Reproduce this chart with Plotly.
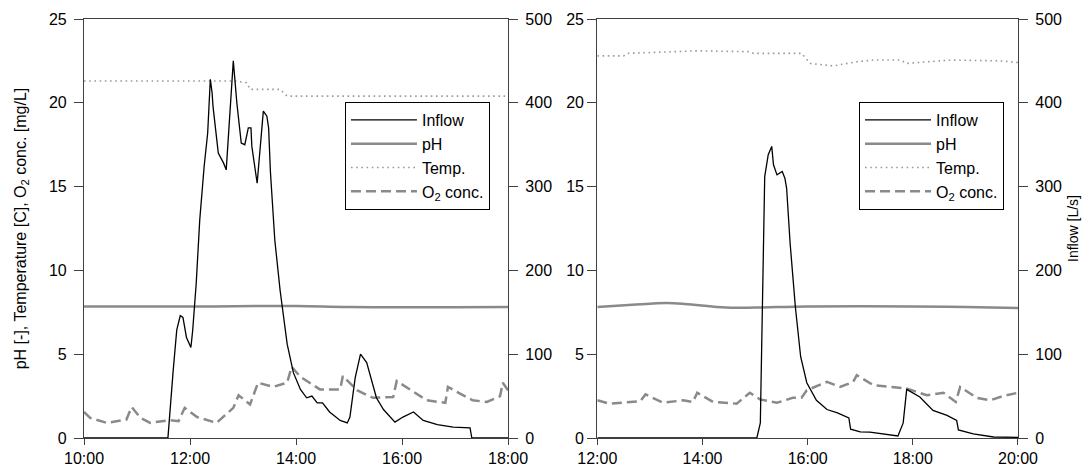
import plotly.graph_objects as go

D = "2000-01-01 "

# ---------------- Left panel (10:00 - 18:00) ----------------
l_inflow_t = ["10:00", "11:35", "11:41", "11:45", "11:49", "11:52", "11:56", "12:01", "12:03", "12:07",
              "12:11", "12:16", "12:20", "12:23", "12:25", "12:26", "12:32", "12:38", "12:41", "12:49",
              "12:53", "12:58", "13:02", "13:06", "13:09", "13:10", "13:16", "13:23", "13:27", "13:29",
              "13:31", "13:36", "13:42", "13:50", "13:57", "14:05", "14:12", "14:18", "14:24", "14:30",
              "14:38", "14:50", "14:58", "15:01", "15:07", "15:13", "15:20", "15:31", "15:39", "15:52",
              "16:01", "16:13", "16:24", "16:40", "16:58", "17:17", "17:19", "18:00"]
l_inflow_v = [0, 0, 81, 129, 146, 144, 120, 108, 128, 184,
              260, 324, 364, 428, 412, 396, 340, 328, 320, 450,
              400, 352, 350, 370, 370, 348, 304, 390, 384, 370,
              318, 236, 176, 112, 78, 58, 48, 50, 42, 42,
              31, 21, 18, 25, 72, 100, 90, 48, 34, 19,
              25, 31, 21, 16, 13, 12, 0, 0]

l_ph_t = ["10:00", "12:00", "14:00", "15:00", "18:00"]
l_ph_v = [7.85, 7.85, 7.88, 7.82, 7.82]

l_temp_t = ["10:00", "12:50", "13:04", "13:08", "13:42", "13:50", "18:00"]
l_temp_v = [21.3, 21.3, 21.2, 20.8, 20.8, 20.4, 20.4]

l_o2_t = ["10:00", "10:07", "10:26", "10:48", "10:54", "11:04", "11:15", "11:37", "11:47", "11:54",
          "12:08", "12:30", "12:49", "12:55", "13:08", "13:17", "13:34", "13:50", "13:55", "14:05",
          "14:27", "14:50", "14:53", "15:09", "15:27", "15:50", "15:54", "16:13", "16:28", "16:49",
          "16:52", "17:02", "17:20", "17:36", "17:51", "17:54", "18:00"]
l_o2_v = [1.55, 1.2, 0.9, 1.1, 1.85, 1.2, 0.9, 1.07, 1.0, 1.8,
          1.25, 0.9, 1.8, 2.55, 2.0, 3.3, 3.05, 3.3, 4.25, 3.65,
          2.9, 2.9, 3.7, 2.85, 2.4, 2.45, 3.4, 2.75, 2.25, 2.1,
          3.05, 2.75, 2.25, 2.15, 2.5, 3.3, 2.85]

# ---------------- Right panel (12:00 - 20:00) ----------------
r_inflow_t = ["12:00", "15:02", "15:06", "15:08", "15:10", "15:11", "15:15", "15:19", "15:21", "15:25",
              "15:31", "15:34", "15:36", "15:40", "15:46", "15:52", "15:59", "16:10", "16:22", "16:34",
              "16:47", "16:49", "17:00", "17:11", "17:43", "17:49", "17:53", "17:59", "18:08", "18:23",
              "18:39", "18:50", "18:52", "19:09", "19:32", "20:00"]
r_inflow_v = [0, 0, 18, 128, 248, 312, 338, 348, 326, 314,
              318, 310, 298, 232, 156, 97, 66, 45, 34, 30,
              24, 10.6, 7.4, 7.0, 2.4, 18, 58, 54, 49, 33,
              27, 21, 9.6, 4.8, 1.2, 0.8]

r_ph_t = ["12:00", "12:40", "13:19", "13:40", "14:27", "15:00", "16:00", "18:00", "19:00", "20:00"]
r_ph_v = [7.82, 7.95, 8.05, 8.0, 7.78, 7.78, 7.85, 7.85, 7.82, 7.75]

r_temp_t = ["12:00", "12:30", "12:34", "13:15", "13:53", "14:54", "14:58", "15:53", "16:03", "16:29",
            "16:56", "17:15", "17:46", "17:53", "18:23", "18:43", "19:40", "20:00"]
r_temp_v = [22.8, 22.8, 22.95, 23.05, 23.1, 23.05, 22.95, 22.95, 22.35, 22.2,
            22.45, 22.55, 22.55, 22.35, 22.45, 22.55, 22.5, 22.4]

r_o2_t = ["12:00", "12:14", "12:49", "12:55", "13:15", "13:38", "13:49", "13:54", "14:12", "14:39",
          "14:54", "15:06", "15:25", "15:43", "15:53", "15:59", "16:22", "16:37", "16:52", "16:56",
          "17:15", "17:53", "18:16", "18:35", "18:49", "18:54", "19:13", "19:28", "19:43", "20:00"]
r_o2_v = [2.25, 2.05, 2.2, 2.6, 2.1, 2.25, 2.15, 2.7, 2.15, 2.05,
          2.7, 2.3, 2.1, 2.4, 2.4, 2.85, 3.35, 3.05, 3.35, 3.75,
          3.15, 2.95, 2.55, 2.7, 2.15, 3.05, 2.4, 2.25, 2.5, 2.7]

names = ["Inflow", "pH", "Temp.", "O<sub>2</sub> conc."]

FONT = "Liberation Sans, Arial, sans-serif"
AX = "#404040"


def ts(lst):
    return [D + t for t in lst]


fig = go.Figure()

def add_panel(xa, ya_left, ya_right, leg, inflow_t, inflow_v, ph_t, ph_v, temp_t, temp_v, o2_t, o2_v):
    fig.add_trace(go.Scatter(x=ts(inflow_t), y=inflow_v, name=names[0], mode="lines",
                             line=dict(color="black", width=1.3), xaxis=xa, yaxis=ya_right, legend=leg))
    fig.add_trace(go.Scatter(x=ts(ph_t), y=ph_v, name=names[1], mode="lines",
                             line=dict(color="#8a8a8a", width=2.5, shape="spline"), xaxis=xa, yaxis=ya_left, legend=leg))
    fig.add_trace(go.Scatter(x=ts(temp_t), y=temp_v, name=names[2], mode="lines",
                             line=dict(color="#9a9a9a", width=1.6, dash="1.6px,3.6px"), xaxis=xa, yaxis=ya_left, legend=leg))
    fig.add_trace(go.Scatter(x=ts(o2_t), y=o2_v, name=names[3], mode="lines",
                             line=dict(color="#8a8a8a", width=2.5, dash="10px,5px"), xaxis=xa, yaxis=ya_left, legend=leg))


add_panel("x", "y", "y2", "legend", l_inflow_t, l_inflow_v, l_ph_t, l_ph_v, l_temp_t, l_temp_v, l_o2_t, l_o2_v)
add_panel("x2", "y3", "y4", "legend2", r_inflow_t, r_inflow_v, r_ph_t, r_ph_v, r_temp_t, r_temp_v, r_o2_t, r_o2_v)

xcommon = dict(type="date", tickformat="%H:%M", dtick=7200000, ticks="outside", ticklen=6,
               tickcolor=AX, showline=True, linecolor=AX, linewidth=1.2, mirror=True, automargin=False,
               showgrid=False, zeroline=False, tickfont=dict(size=16, color="black"))
ycommon = dict(ticks="outside", ticklen=9, tickcolor=AX, showline=True, linecolor=AX, linewidth=1.2,
               automargin=False, showgrid=False, zeroline=False, tickfont=dict(size=16, color="black"))

fig.update_layout(
    width=1086, height=473,
    margin=dict(l=84, r=68, t=19, b=35, autoexpand=False),
    paper_bgcolor="white", plot_bgcolor="white",
    font=dict(family=FONT, size=16, color="black"),
    xaxis=dict(domain=[0, 0.454], range=[D + "10:00", D + "18:00"], tick0=D + "10:00", anchor="y", **xcommon),
    xaxis2=dict(domain=[0.5496, 1], range=[D + "12:00", D + "20:00"], tick0=D + "12:00", anchor="y3", **xcommon),
    yaxis=dict(range=[0, 25], dtick=5, anchor="x", side="left", ticklabelstandoff=4,
               title=dict(text="pH [-], Temperature [C], O<sub>2</sub> conc. [mg/L]", font=dict(size=16), standoff=18),
               **ycommon),
    yaxis2=dict(range=[0, 500], dtick=100, anchor="x", overlaying="y", side="right", ticklabelstandoff=4, **ycommon),
    yaxis3=dict(range=[0, 25], dtick=5, anchor="x2", side="left", ticklabelstandoff=0, **ycommon),
    yaxis4=dict(range=[0, 500], dtick=100, anchor="x2", overlaying="y3", side="right", ticklabelstandoff=4,
                title=dict(text="Inflow [L/s]", font=dict(size=14), standoff=7), **ycommon),
    legend=dict(x=0.2794, y=0.8019, xanchor="left", yanchor="top", bordercolor="black", borderwidth=1,
                bgcolor="white", font=dict(size=16), itemwidth=66),
    legend2=dict(x=0.8298, y=0.8019, xanchor="left", yanchor="top", bordercolor="black", borderwidth=1,
                 bgcolor="white", font=dict(size=16), itemwidth=66),
    showlegend=True,
)

fig.write_html("out.html")
